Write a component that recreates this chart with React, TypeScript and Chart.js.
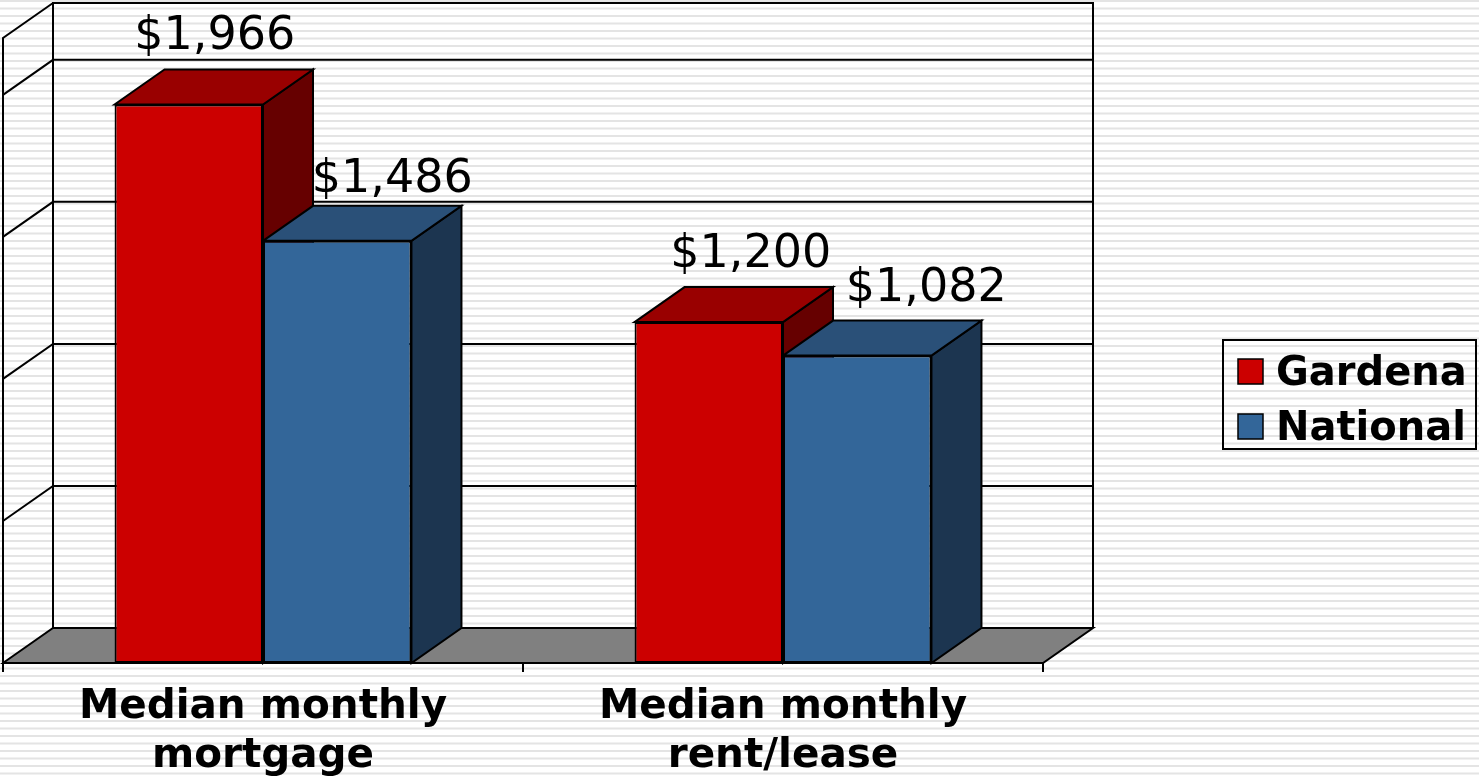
import React, { useEffect, useRef } from "react";
import { Chart, registerables } from "chart.js";

Chart.register(...registerables);

const categories: string[][] = [
  ["Median monthly", "mortgage"],
  ["Median monthly", "rent/lease"],
];
const seriesNames = ["Gardena", "National"];
const gardena = [1966, 1200];
const national = [1486, 1082];
const yMin = 0;
const yMax = 2200;
const yStep = 500;

const FRONT = ["#CC0000", "#336699"];
const TOP = ["#990000", "#2A5078"];
const SIDE = ["#660000", "#1C3550"];
const FLOOR = "#808080";
const DX = 50;
const DY = 35;
// label nudges (dataset, category) in px relative to bar top-centre
const LABEL_NUDGE = [
  [[1, -20], [17, -20]],
  [[30, -14], [44, -20]],
];

const fmt = (v: number) => "$" + v.toLocaleString("en-US");

const threeD = {
  id: "threeD",
  beforeDraw(chart: any) {
    const { ctx, width, height } = chart;
    ctx.save();
    ctx.fillStyle = "#ffffff";
    ctx.fillRect(0, 0, width, height);
    ctx.fillStyle = "#e4e4e4";
    for (let y = 0; y < height; y += 7.5) {
      ctx.fillRect(0, y, width, 2);
    }
    ctx.restore();
  },
  beforeDatasetsDraw(chart: any) {
    const { ctx, chartArea, scales } = chart;
    const ys = scales.y;
    const L = chartArea.left, R = chartArea.right, B = chartArea.bottom, T = chartArea.top;
    ctx.save();
    ctx.lineWidth = 2;
    ctx.strokeStyle = "#000";
    ctx.lineJoin = "miter";
    // back wall outline
    ctx.beginPath();
    ctx.moveTo(L + DX, B - DY);
    ctx.lineTo(L + DX, T - DY);
    ctx.lineTo(R + DX, T - DY);
    ctx.lineTo(R + DX, B - DY);
    ctx.stroke();
    // left wall
    ctx.beginPath();
    ctx.moveTo(L, B + 9);
    ctx.lineTo(L, T);
    ctx.lineTo(L + DX, T - DY);
    ctx.stroke();
    // gridlines
    for (let v = yMin + yStep; v < yMax; v += yStep) {
      const y = ys.getPixelForValue(v);
      ctx.beginPath();
      ctx.moveTo(L, y);
      ctx.lineTo(L + DX, y - DY);
      ctx.lineTo(R + DX, y - DY);
      ctx.stroke();
    }
    // floor
    ctx.beginPath();
    ctx.moveTo(L, B);
    ctx.lineTo(L + DX, B - DY);
    ctx.lineTo(R + DX, B - DY);
    ctx.lineTo(R, B);
    ctx.closePath();
    ctx.fillStyle = FLOOR;
    ctx.fill();
    ctx.stroke();
    // category ticks
    const n = categories.length;
    for (let i = 0; i <= n; i++) {
      const x = L + ((R - L) * i) / n;
      ctx.beginPath();
      ctx.moveTo(x, B);
      ctx.lineTo(x, B + 9);
      ctx.stroke();
    }
    // bar sides and tops
    for (let j = 0; j < n; j++) {
      chart.data.datasets.forEach((_: any, i: number) => {
        const el = chart.getDatasetMeta(i).data[j];
        const p = el.getProps(["x", "y", "base", "width"], true);
        const l = p.x - p.width / 2, r = p.x + p.width / 2, t = p.y, b = p.base;
        ctx.beginPath();
        ctx.moveTo(r, t);
        ctx.lineTo(r + DX, t - DY);
        ctx.lineTo(r + DX, b - DY);
        ctx.lineTo(r, b);
        ctx.closePath();
        ctx.fillStyle = SIDE[i];
        ctx.fill();
        ctx.stroke();
        ctx.beginPath();
        ctx.moveTo(l, t);
        ctx.lineTo(l + DX, t - DY);
        ctx.lineTo(r + DX, t - DY);
        ctx.lineTo(r, t);
        ctx.closePath();
        ctx.fillStyle = TOP[i];
        ctx.fill();
        ctx.stroke();
      });
    }
    ctx.restore();
  },
  afterDatasetsDraw(chart: any) {
    const { ctx, chartArea, scales } = chart;
    ctx.save();
    ctx.fillStyle = "#000";
    // value labels
    ctx.font = "46px 'DejaVu Sans'";
    ctx.textAlign = "center";
    ctx.textBaseline = "alphabetic";
    chart.data.datasets.forEach((ds: any, i: number) => {
      chart.getDatasetMeta(i).data.forEach((el: any, j: number) => {
        const p = el.getProps(["x", "y"], true);
        const [nx, ny] = LABEL_NUDGE[i][j];
        ctx.fillText(fmt(ds.data[j]), p.x + DX / 2 + nx, p.y - DY + ny);
      });
    });
    // category labels
    ctx.font = "bold 40.5px 'DejaVu Sans'";
    categories.forEach((lines, j) => {
      const x = scales.x.getPixelForValue(j);
      lines.forEach((s, k) => {
        ctx.fillText(s, x, chartArea.bottom + 55 + k * 49);
      });
    });
    // legend
    const lx = 1223, ly = 340, lw = 253, lh = 109;
    ctx.lineWidth = 2;
    ctx.strokeStyle = "#000";
    ctx.strokeRect(lx, ly, lw, lh);
    ctx.font = "bold 40px 'DejaVu Sans'";
    ctx.textAlign = "left";
    chart.data.datasets.forEach((ds: any, i: number) => {
      const sy = 359 + i * 55;
      ctx.fillStyle = FRONT[i];
      ctx.fillRect(1238, sy, 25, 25);
      ctx.lineWidth = 1.5;
      ctx.strokeRect(1238, sy, 25, 25);
      ctx.fillStyle = "#000";
      ctx.fillText(ds.label, 1276, sy + 26);
    });
    ctx.restore();
  },
};

export default function App() {
  const ref = useRef<HTMLCanvasElement>(null);
  useEffect(() => {
    document.body.style.margin = "0";
    const canvas = ref.current!;
    const chart = new Chart(canvas, {
      type: "bar",
      data: {
        labels: categories.map((c) => c.join(" ")),
        datasets: [
          { label: seriesNames[0], data: gardena, backgroundColor: FRONT[0] },
          { label: seriesNames[1], data: national, backgroundColor: FRONT[1] },
        ].map((d) => ({
          ...d,
          borderColor: "#000",
          borderWidth: 2,
          borderSkipped: false,
          barPercentage: 1,
          categoryPercentage: 0.571,
        })),
      },
      options: {
        animation: false,
        responsive: false,
        devicePixelRatio: 1,
        layout: { padding: { left: 3, top: 38, right: 436, bottom: 116 } },
        plugins: { legend: { display: false }, tooltip: { enabled: false } },
        scales: {
          x: { display: false },
          y: { display: false, min: yMin, max: yMax },
        },
      },
      plugins: [threeD],
    });
    return () => chart.destroy();
  }, []);
  return (
    <div style={{ width: 1479, height: 779 }}>
      <canvas ref={ref} width={1479} height={779} style={{ display: "block" }} />
    </div>
  );
}
